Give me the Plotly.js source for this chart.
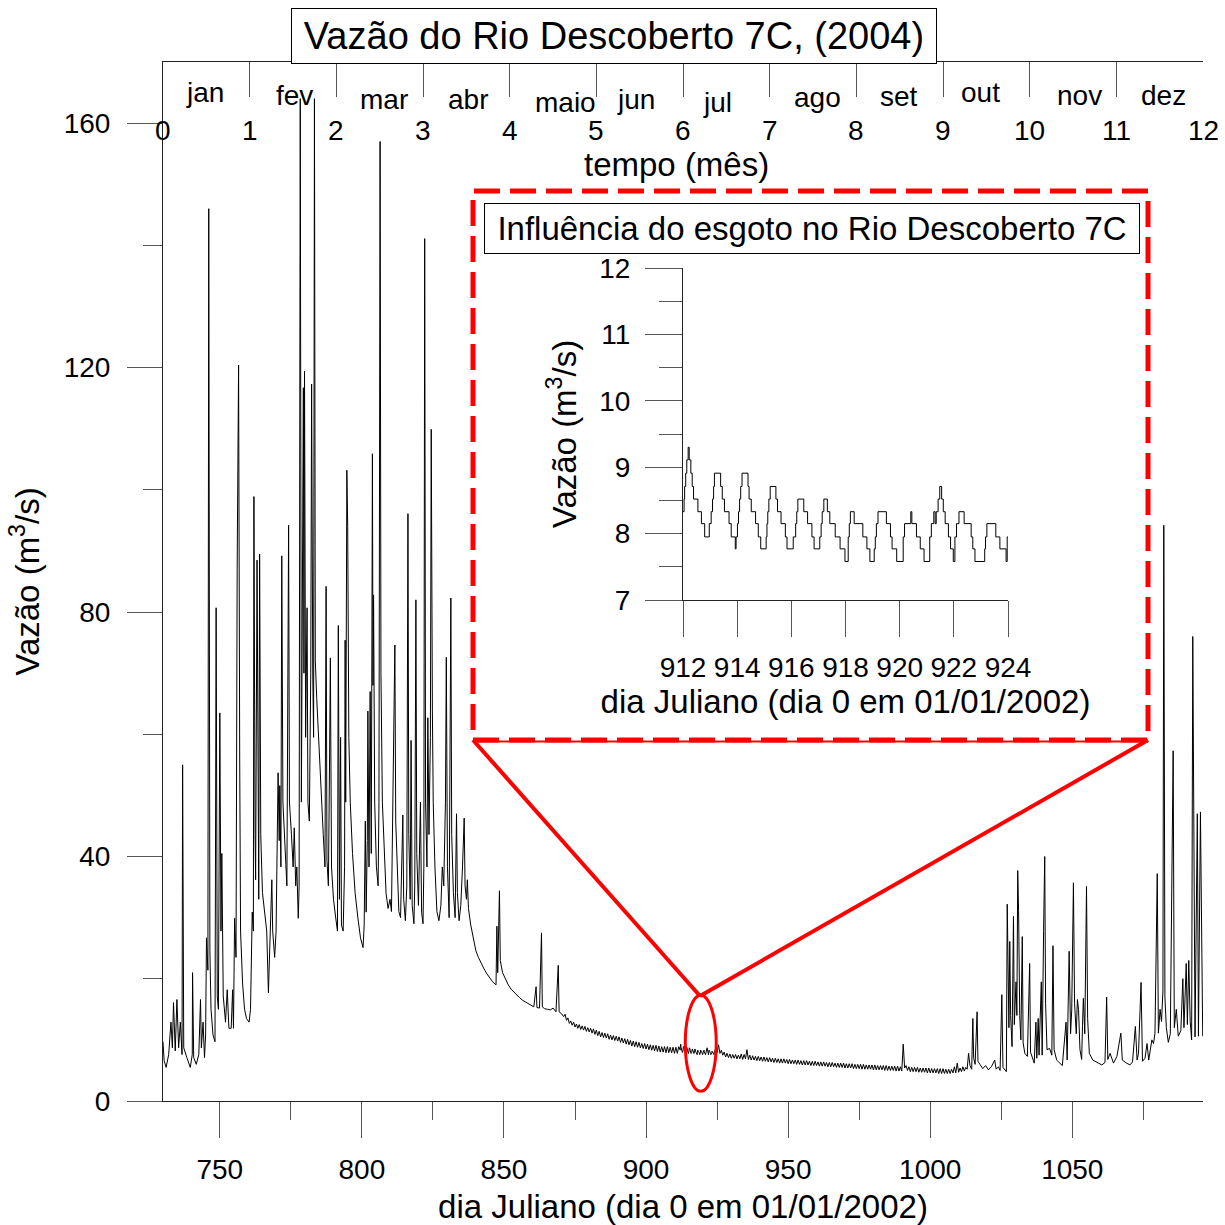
<!DOCTYPE html>
<html>
<head>
<meta charset="utf-8">
<script src="https://cdn.plot.ly/plotly-3.0.1.min.js"></script>
<style>html,body{margin:0;padding:0;background:#fff}</style>
</head>
<body>
<div id="grafico" style="width:1225px;height:1225px"></div>
<script>
// Vazão do Rio Descoberto 7C em 2004 (dia juliano contado a partir de 01/01/2002)

// Período chuvoso: jan a meados de maio (dia, vazão em m³/s)
const diaCheia = [
  730.0,730.4,731.1,732.0,732.8,733.3,733.7,734.3,734.9,735.5,736.1,736.7,736.9,737.3,738.4,739.6,740.3,740.4,740.8,741.7,
  742.6,743.2,743.5,744.1,744.6,745.0,745.3,745.8,746.1,746.5,746.9,747.6,748.3,748.7,749.1,749.5,750.0,750.4,750.7,751.2,
  752.0,752.6,753.2,754.0,754.5,754.8,755.2,755.7,756.1,756.6,757.0,757.3,758.0,758.7,759.4,760.3,760.8,761.4,761.8,762.0,
  762.4,762.6,763.1,763.4,763.7,764.0,764.4,765.0,765.8,766.5,767.1,767.7,768.3,768.6,769.3,769.8,770.2,770.5,770.9,771.1,
  771.5,771.8,772.2,772.9,773.6,774.2,774.5,775.2,775.8,776.2,776.7,777.1,777.6,777.9,778.3,778.7,779.1,779.4,779.6,779.8,
  780.2,780.7,781.0,781.5,782.0,782.3,782.7,783.0,783.3,
  783.6,784.1,784.7,785.3,785.8,786.4,787.0,787.4,787.7,788.2,788.6,788.9,789.3,790.0,790.8,791.4,791.7,792.1,792.5,792.8,
  793.4,793.9,794.1,794.3,794.7,795.0,795.4,795.9,796.7,797.6,798.6,799.5,800.4,800.8,801.2,801.5,801.9,802.1,802.5,802.9,
  803.3,803.7,803.9,804.1,804.5,805.1,805.7,806.0,806.4,806.7,807.2,807.8,808.5,809.2,809.9,810.4,810.8,811.2,811.6,811.9,
  812.4,813.0,813.6,814.0,814.4,814.7,815.3,815.8,816.2,816.5,817.0,817.3,817.7,818.3,818.6,819.0,819.3,819.9,820.6,821.0,
  821.5,821.8,822.1,822.4,822.9,823.2,823.6,824.1,824.4,824.8,825.1,825.7,826.4,827.1,827.8,828.3,828.8,829.4,829.7,830.1,
  830.7,831.3,831.6,832.2,832.8,833.3,833.6,834.2,834.8,835.4,836.0,836.3,836.8,837.1,837.5,838.3,839.2,840.1,
  841.0,842.0,843.0,844.0,845.0,846.0,847.2,847.5,847.8,848.4,848.7,849.5,850.5,851.5,852.5,853.5,854.5,855.5,856.5,857.5,
  858.5,859.5,860.5,861.3,861.6,862.5,863.2,863.5,864.3,865.3,866.3,867.3,868.3,869.1,869.4,870.2
];
const vazaoCheia = [
  9.7,6.6,5.5,7.6,12.9,8.7,16.1,8.2,16.6,8.7,12.9,7.6,55.0,8.7,7.1,5.5,7.6,21.0,7.1,6.0,
  7.6,16.6,8.7,12.9,7.1,10.8,26.7,21.4,146.0,24.6,15.0,10.8,9.7,80.7,17.2,15.0,63.5,27.8,40.5,17.2,
  12.9,18.2,11.9,11.9,18.2,11.9,29.9,23.5,87.0,120.4,55.3,27.8,19.3,15.0,13.5,12.9,15.0,30.9,27.8,98.9,
  43.6,36.2,88.5,40.5,33.0,89.5,43.6,34.1,30.9,27.8,17.7,25.6,36.2,27.8,23.5,27.8,43.6,53.7,42.6,51.6,
  38.3,89.2,48.9,40.5,35.2,94.2,48.9,43.6,38.3,44.7,35.2,38.3,29.9,35.2,164.0,48.9,80.7,116.7,70.0,119.4,
  59.5,80.7,48.9,45.8,70.0,117.3,70.0,59.5,164.0,
  72.0,65.9,59.5,53.2,47.9,43.6,38.3,84.2,39.4,35.2,54.8,72.5,38.3,33.0,29.9,27.8,77.8,33.0,59.5,28.8,
  27.8,38.3,75.4,48.9,103.2,94.0,59.5,48.9,40.5,34.1,29.9,26.7,25.1,28.8,45.8,30.9,42.6,63.8,38.3,67.0,
  40.5,105.9,68.0,82.8,48.9,38.3,35.2,48.9,157.0,70.0,48.9,40.5,34.0,31.5,33.0,31.0,48.9,55.3,74.6,45.8,
  38.3,31.0,30.0,38.3,46.8,33.0,29.5,35.2,96.1,43.6,33.0,59.0,32.0,29.0,35.2,82.0,40.5,32.0,48.9,30.9,
  29.0,38.3,141.1,48.9,38.3,62.7,43.6,59.5,109.9,63.8,48.9,38.3,31.0,29.5,32.0,38.3,35.2,48.9,72.6,38.3,
  30.0,82.3,43.6,34.1,30.0,47.0,34.1,29.5,32.0,38.3,46.3,35.2,33.0,36.2,31.5,28.8,26.7,24.6,
  23.5,22.5,21.6,20.8,20.1,19.5,19.0,28.6,21.0,34.4,23.0,21.0,20.0,19.0,18.3,17.8,17.3,16.9,16.5,16.2,
  15.9,15.6,15.4,18.7,15.3,15.2,27.5,15.4,15.1,15.0,14.9,15.2,14.6,22.2,14.6,14.3
];

// Estiagem antes do detalhe: leituras a cada meio dia a partir do dia 871
const inicioEstiagemA = 871.0;
const vazaoEstiagemA = [
  13.8,14.2,13.2,13.6,12.7,13.1,12.4,12.9,12.1,12.6,11.9,12.5,11.7,12.3,11.6,12.2,11.4,12.0,11.3,11.9,
  11.1,11.8,10.9,11.6,10.7,11.4,10.5,11.2,10.4,11.1,10.3,11.0,10.1,10.8,10.0,10.7,9.9,10.6,9.8,10.5,
  9.6,10.3,9.5,10.2,9.3,10.1,9.2,9.9,9.0,9.8,8.9,9.7,8.8,9.6,8.7,9.4,8.6,9.4,8.5,9.3,
  8.4,9.2,8.3,9.1,8.2,9.1,8.1,9.0,8.0,8.9,8.0,8.9,7.9,8.9,7.9,8.8,7.9,8.8,7.8,8.8,
  7.8,8.9
];

// Detalhe horário da influência do esgoto (dias 912 a 924)
const diaDetalhe = [
  912.00,912.04,912.06,912.10,912.14,912.19,912.23,912.29,912.34,912.39,912.55,912.68,912.80,
  912.97,913.04,913.09,913.13,913.16,913.39,913.45,913.53,913.70,913.78,913.93,
  913.96,914.01,914.05,914.09,914.13,914.18,914.40,914.44,914.52,914.68,914.78,914.87,
  915.07,915.10,915.13,915.17,915.22,915.43,915.49,915.62,915.78,915.84,
  916.07,916.16,916.20,916.24,916.46,916.60,916.76,916.84,
  917.05,917.10,917.14,917.20,917.33,917.42,917.62,917.80,917.98,
  918.10,918.14,918.18,918.32,918.64,918.79,918.90,
  919.06,919.10,919.14,919.20,919.51,919.66,919.72,919.89,
  920.13,920.18,920.41,920.45,920.62,920.76,920.90,
  921.11,921.17,921.26,921.31,921.35,921.42,921.48,921.55,921.61,921.68,921.80,921.88,921.98,
  922.04,922.10,922.19,922.38,922.64,922.70,922.78,
  923.14,923.17,923.22,923.55,923.70,923.93,923.97,924.04
];
const vazaoDetalhe = [
  8.33,8.52,8.71,8.91,9.11,9.30,9.11,8.91,8.71,8.52,8.33,8.15,7.95,
  8.15,8.33,8.52,8.71,8.91,8.71,8.52,8.33,8.15,7.95,7.77,
  7.95,8.15,8.33,8.52,8.71,8.91,8.71,8.52,8.33,8.15,7.95,7.77,
  7.95,8.15,8.33,8.52,8.71,8.52,8.33,8.15,7.95,7.77,
  7.95,8.15,8.33,8.52,8.33,8.15,7.95,7.77,
  7.95,8.15,8.33,8.52,8.33,8.15,7.95,7.77,7.58,
  7.95,8.15,8.33,8.15,7.95,7.77,7.58,
  7.77,7.95,8.15,8.33,8.15,7.95,7.77,7.58,
  7.95,8.15,8.33,8.15,7.95,7.77,7.58,
  7.95,8.15,8.33,8.15,8.33,8.52,8.71,8.52,8.33,8.15,7.95,7.77,7.58,
  7.95,8.15,8.33,8.15,7.95,7.77,7.58,
  7.77,7.95,8.15,7.95,7.77,7.58,7.95,7.95
];

// Estiagem depois do detalhe: leituras a cada meio dia a partir do dia 924,5
const inicioEstiagemB = 924.5;
const vazaoEstiagemB = [
  8.6,
  7.9,9.2,7.8,8.3,7.5,8.0,7.2,7.8,7.1,7.7,7.0,7.6,7.0,7.6,6.9,7.5,6.9,7.7,6.8,7.6,
  6.9,8.4,6.8,7.5,6.7,7.4,6.7,7.3,6.6,7.3,6.6,7.2,6.5,7.2,6.5,7.1,6.4,7.1,6.4,7.0,
  6.3,7.0,6.3,6.9,6.2,6.9,6.2,6.9,6.2,6.8,6.1,6.8,6.1,6.7,6.1,6.7,6.0,6.7,6.0,6.6,
  5.9,6.6,5.9,6.6,5.9,6.5,5.8,6.5,5.8,6.5,5.8,6.4,5.7,6.4,5.7,6.4,5.7,6.3,5.6,6.3,
  5.6,6.3,5.6,6.2,5.5,6.2,5.5,6.2,5.5,6.2,5.4,6.1,5.4,6.1,5.4,6.1,5.3,6.0,5.3,6.0,
  5.3,6.0,5.2,6.0,5.2,5.9,5.2,5.9,5.2,5.9,5.1,5.9,5.1,5.8,5.1,5.8,5.1,5.8,5.0,5.8,
  5.0,5.7,5.0,5.7,5.0,5.7,4.9,5.7,4.9,5.6,4.9,9.3,5.4,5.8,5.0,5.6,4.8,5.5,4.8,5.5,
  4.8,5.5,4.7,5.4,4.7,5.4,4.7,5.4,4.6,5.4,4.6,5.3,4.6,5.3,4.6,5.3,4.5,5.3,4.5,5.3,
  4.5,5.2,4.5,5.2,4.5,5.2,4.6,5.6,4.6,6.2,
  4.7
];

// Retorno das chuvas: nov e dez
const diaChuvas = [
  1010.5,1011.0,1011.5,1012.0,1012.5,1013.0,1013.5,1014.0,1014.6,1015.0,1015.3,1015.8,1016.5,1016.8,1017.5,1018.5,1019.5,1020.5,1021.5,1022.7,
  1023.2,1024.0,1024.6,1025.2,1025.6,1026.3,1026.8,1027.1,1027.4,1027.7,1028.0,1028.3,1028.8,1029.3,1029.6,1030.2,1030.5,1030.8,1031.1,1031.5,
  1031.9,1032.4,1032.7,1033.3,1034.2,1035.0,1035.3,1036.0,1036.6,1037.2,1037.5,1038.0,1038.3,1039.1,1039.4,1039.9,1040.3,1040.6,1041.1,1042.0,
  1042.8,1043.2,1043.6,1044.5,1045.5,1046.5,1047.8,1048.2,1048.9,1049.4,1049.8,1050.4,1050.8,1051.4,1051.8,1052.2,1052.7,1053.3,1053.6,1053.9,
  1054.4,1055.0,1055.4,1056.0,1057.2,1058.9,1060.4,1061.5,1062.1,1062.5,1063.3,1064.5,1065.7,1067.1,1067.6,1069.1,1070.3,1071.2,1072.2,1072.8,
  1073.3,1074.2,1074.7,1075.6,1076.3,1076.9,1078.0,1078.6,1079.1,1079.9,1080.3,1080.9,1081.4,1081.9,1082.2,1082.6,1083.1,1083.8,1084.5,1085.5,
  1085.9,1086.6,1087.3,1088.2,1088.9,1089.3,1090.1,1090.5,1091.0,1091.5,1092.0,1092.4,1092.8,1093.2,1094.0,1094.4,1095.1,1095.5,1095.9
];
const vazaoChuvas = [
  5.4,4.8,5.6,4.9,5.5,5.2,7.8,5.8,5.2,13.5,7.0,6.0,14.6,6.5,6.0,5.3,5.8,5.1,5.6,6.7,
  5.2,5.6,5.0,17.4,5.5,5.0,4.8,32.2,16.5,12.0,26.1,14.0,8.9,30.2,12.5,19.5,14.0,37.7,31.2,14.0,
  10.0,26.9,9.5,7.8,7.3,22.5,8.0,6.8,6.2,12.9,7.0,13.5,7.5,19.5,7.5,27.7,40.0,16.0,8.4,8.6,
  7.5,25.4,8.4,6.7,6.2,5.8,12.9,6.7,24.5,11.0,14.9,35.7,16.0,11.0,16.6,15.0,8.4,6.8,12.4,16.8,
  11.0,35.1,13.5,7.8,6.7,6.2,5.9,6.3,17.0,6.8,7.8,6.2,7.3,11.1,6.7,6.2,5.9,6.4,12.2,6.7,
  7.8,19.4,6.5,7.0,9.4,6.7,10.0,9.4,11.1,37.2,11.1,15.0,13.0,18.0,94.2,17.0,12.0,9.6,11.0,57.3,
  12.0,15.0,10.6,11.5,20.0,12.0,22.5,12.5,23.0,13.0,10.0,76.0,35.0,10.5,47.0,10.6,47.3,31.0,10.6
];

// Escala superior em meses
const numerosMes = [0,1,2,3,4,5,6,7,8,9,10,11,12];
const meses = ['jan','fev','mar','abr','maio','jun','jul','ago','set','out','nov','dez'];

// Série anual completa, na ordem do tempo
const serieDia = [];
const serieVazao = [];
diaCheia.forEach((d, i) => { serieDia.push(d); serieVazao.push(vazaoCheia[i]); });
vazaoEstiagemA.forEach((v, i) => { serieDia.push(inicioEstiagemA + 0.5 * i); serieVazao.push(v); });
diaDetalhe.forEach((d, i) => { serieDia.push(d); serieVazao.push(vazaoDetalhe[i]); });
vazaoEstiagemB.forEach((v, i) => { serieDia.push(inicioEstiagemB + 0.5 * i); serieVazao.push(v); });
diaChuvas.forEach((d, i) => { serieDia.push(d); serieVazao.push(vazaoChuvas[i]); });

// Conversão de pixels da página para coordenadas "paper" da área de plotagem
const ESQ = 163, LARG = 1040, BASE = 1101, ALT = 1039;
const px = x => (x - ESQ) / LARG;
const py = y => (BASE - y) / ALT;

const FONTE = 'Liberation Sans, Arial, Helvetica, sans-serif';
const VERMELHO = '#ff0000';

// Posições (em meses) e alturas (px) dos nomes dos meses
const posMes = [0.48,1.52,2.55,3.52,4.64,5.46,6.40,7.55,8.49,9.43,10.57,11.54];
const alturaMes = [92,95,100,100,103,100,103,98,97,92,95,95];

const tracos = [
  {
    x: serieDia, y: serieVazao, type: 'scatter', mode: 'lines',
    line: {color: '#000', width: 1}, xaxis: 'x', yaxis: 'y', hoverinfo: 'skip'
  },
  {
    x: [numerosMes[0], numerosMes[numerosMes.length - 1]], y: [0, 0],
    type: 'scatter', mode: 'none', xaxis: 'x2', yaxis: 'y', hoverinfo: 'skip'
  },
  {
    x: diaDetalhe, y: vazaoDetalhe, type: 'scatter', mode: 'lines',
    line: {color: '#000', width: 1, shape: 'hv'}, xaxis: 'x3', yaxis: 'y3', hoverinfo: 'skip'
  }
];

const anotacoes = [];
// título principal em caixa
anotacoes.push({
  text: 'Vazão do Rio Descoberto 7C, (2004)', xref: 'paper', yref: 'paper',
  x: px(614), y: py(36), xanchor: 'center', yanchor: 'middle', showarrow: false,
  font: {family: FONTE, size: 38, color: '#000'},
  bgcolor: '#fff', bordercolor: '#000', borderwidth: 1, borderpad: 0, width: 644, height: 54
});
// título do detalhe em caixa
anotacoes.push({
  text: 'Influência do esgoto no Rio Descoberto 7C', xref: 'paper', yref: 'paper',
  x: px(812), y: py(228.5), xanchor: 'center', yanchor: 'middle', showarrow: false,
  font: {family: FONTE, size: 33, color: '#000'},
  bgcolor: '#fff', bordercolor: '#000', borderwidth: 1, borderpad: 0, width: 654, height: 49
});
// números dos meses
numerosMes.forEach(n => anotacoes.push({
  text: String(n), xref: 'x2', yref: 'paper', x: n, y: py(130),
  xanchor: 'center', yanchor: 'middle', showarrow: false,
  font: {family: FONTE, size: 28, color: '#000'}
}));
// nomes dos meses
meses.forEach((m, i) => anotacoes.push({
  text: m, xref: 'x2', yref: 'paper', x: posMes[i], y: py(alturaMes[i]),
  xanchor: 'center', yanchor: 'middle', showarrow: false,
  font: {family: FONTE, size: 28, color: '#000'}
}));
anotacoes.push({
  text: 'tempo (mês)', xref: 'x2', yref: 'paper', x: 5.92, y: py(165),
  xanchor: 'center', yanchor: 'middle', showarrow: false,
  font: {family: FONTE, size: 33, color: '#000'}
});

const formas = [
  // moldura tracejada do detalhe
  {type: 'rect', xref: 'paper', yref: 'paper', x0: px(473), x1: px(1148), y0: py(740), y1: py(191),
   line: {color: VERMELHO, width: 5, dash: '26px,10px'}},
  {type: 'line', xref: 'paper', yref: 'paper', x0: px(473), x1: px(1148), y0: py(741.5), y1: py(741.5),
   line: {color: VERMELHO, width: 2}},
  // ligações entre o trecho destacado e o detalhe
  {type: 'line', xref: 'paper', yref: 'paper', x0: px(700), y0: py(996), x1: px(473), y1: py(740),
   line: {color: VERMELHO, width: 4}},
  {type: 'line', xref: 'paper', yref: 'paper', x0: px(700), y0: py(996), x1: px(1148), y1: py(740),
   line: {color: VERMELHO, width: 4}},
  // elipse sobre os dias 912-924
  {type: 'circle', xref: 'x', yref: 'y', x0: 913.8, x1: 924.7, y0: 1.6, y1: 17.3,
   line: {color: VERMELHO, width: 3}}
];

const eixoBase = {
  showgrid: false, zeroline: false, showline: true, linecolor: '#222', linewidth: 1,
  tickcolor: '#555', tickwidth: 1, tickfont: {family: FONTE, size: 28, color: '#000'}
};

const layout = {
  width: 1225, height: 1225,
  margin: {l: ESQ, r: 1225 - ESQ - LARG, t: 62, b: 1225 - BASE},
  paper_bgcolor: '#fff', plot_bgcolor: 'rgba(0,0,0,0)',
  showlegend: false,
  font: {family: FONTE, color: '#000'},
  xaxis: Object.assign({}, eixoBase, {
    range: [730, 1096], tickmode: 'linear', tick0: 750, dtick: 50,
    ticks: 'outside', ticklen: 36, ticklabelstandoff: 7,
    minor: {tick0: 750, dtick: 25, ticks: 'outside', ticklen: 18, tickcolor: '#555', showgrid: false},
    title: {text: 'dia Juliano (dia 0 em 01/01/2002)', font: {family: FONTE, size: 33, color: '#000'}, standoff: 11}
  }),
  yaxis: Object.assign({}, eixoBase, {
    range: [0, 170], tickmode: 'linear', tick0: 0, dtick: 40,
    ticks: 'outside', ticklen: 35, ticklabelstandoff: 11,
    minor: {tick0: 0, dtick: 20, ticks: 'outside', ticklen: 19, tickcolor: '#555', showgrid: false},
    title: {text: 'Vazão (m<sup>3</sup>/s)', font: {family: FONTE, size: 33, color: '#000'}, standoff: 14}
  }),
  xaxis2: Object.assign({}, eixoBase, {
    overlaying: 'x', side: 'top', anchor: 'y', range: [0, 12],
    tickmode: 'array', tickvals: numerosMes, showticklabels: false,
    ticks: 'inside', ticklen: 35
  }),
  xaxis3: Object.assign({}, eixoBase, {
    domain: [px(683), px(1008)], anchor: 'y3', range: [912, 924],
    tickmode: 'linear', tick0: 912, dtick: 2, ticks: 'outside', ticklen: 36, ticklabelstandoff: 6,
    title: {text: 'dia Juliano (dia 0 em 01/01/2002)', font: {family: FONTE, size: 33, color: '#000'}, standoff: 5}
  }),
  yaxis3: Object.assign({}, eixoBase, {
    domain: [py(600), py(268)], anchor: 'x3', range: [7, 12],
    tickmode: 'linear', tick0: 7, dtick: 1, ticks: 'outside', ticklen: 37, ticklabelstandoff: 9,
    minor: {tick0: 7, dtick: 0.5, ticks: 'outside', ticklen: 23, tickcolor: '#555', showgrid: false},
    title: {text: 'Vazão (m<sup>3</sup>/s)', font: {family: FONTE, size: 33, color: '#000'}, standoff: 12}
  }),
  annotations: anotacoes,
  shapes: formas
};

Plotly.newPlot('grafico', tracos, layout, {displayModeBar: false, staticPlot: true});
</script>
</body>
</html>
